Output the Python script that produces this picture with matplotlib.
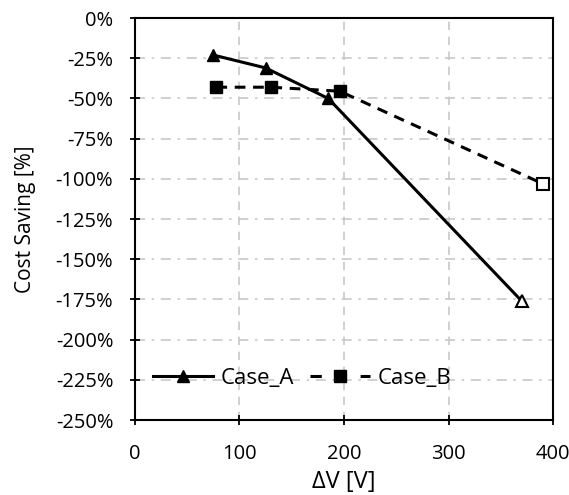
import matplotlib.pyplot as plt
from matplotlib.ticker import FuncFormatter

plt.rcParams['font.family'] = ['Open Sans', 'DejaVu Sans']

# Datos
dv_a = [75, 125, 185, 370]
ahorro_a = [-23, -31, -50, -176]
dv_b = [78, 130, 196, 390]
ahorro_b = [-43, -43, -45.5, -103]

fig = plt.figure(figsize=(5.69, 4.95), dpi=100)
ax = fig.add_axes([0.237, 0.1515, 0.735, 0.812])

# Case_A: linea continua con triangulos, el ultimo hueco
ax.plot(dv_a, ahorro_a, '-', color='black', lw=2.2, zorder=3)
ax.plot(dv_a[:-1], ahorro_a[:-1], '^', color='black', ms=9, zorder=4)
ax.plot(dv_a[-1:], ahorro_a[-1:], '^', mfc='white', mec='black', mew=1.5, ms=9, zorder=4)

# Case_B: linea discontinua con cuadrados, el ultimo hueco
ax.plot(dv_b, ahorro_b, '--', color='black', lw=2.2, dashes=(3.5, 2.5), zorder=3)
ax.plot(dv_b[:-1], ahorro_b[:-1], 's', color='black', ms=9, zorder=4)
ax.plot(dv_b[-1:], ahorro_b[-1:], 's', mfc='white', mec='black', mew=1.5, ms=8, zorder=4)

# Entradas de la leyenda
la, = ax.plot([], [], '-^', color='black', lw=2.2, ms=9, label='Case_A')
lb, = ax.plot([], [], '--s', color='black', lw=2.2, ms=8, dashes=(3.7, 4.5), label='Case_B')

ax.set_xlim(0, 400)
ax.set_ylim(-250, 0)
ax.set_xticks([0, 100, 200, 300, 400])
ax.set_yticks(range(-250, 1, 25))
ax.yaxis.set_major_formatter(FuncFormatter(lambda v, p: f'{int(v)}%'))

# Rejilla: verticales discontinuas, horizontales punto-raya
ax.xaxis.grid(True, color='#c8c8c8', lw=1.2, ls=(0, (5, 4)))
ax.yaxis.grid(True, color='#c8c8c8', lw=1.2, ls=(0, (6, 4, 1.5, 4)))
ax.set_axisbelow(True)

for s in ax.spines.values():
    s.set_linewidth(1.5)
ax.tick_params(direction='inout', length=7, width=1.3, labelsize=14.5, pad=12)
ax.tick_params(axis='x', pad=14)

ax.set_xlabel('ΔV [V]', fontsize=17)
ax.set_ylabel('Cost Saving [%]', fontsize=15)
ax.xaxis.set_label_coords(0.5, -0.125)
ax.yaxis.set_label_coords(-0.237, 0.5)

ax.legend(handles=[la, lb], loc='center left', bbox_to_anchor=(0.043, 0.104),
          ncol=2, frameon=False, fontsize=16, handlelength=2.7, borderpad=0,
          borderaxespad=0, columnspacing=0.7, handletextpad=0.35)

plt.savefig('out.png', dpi=100)
